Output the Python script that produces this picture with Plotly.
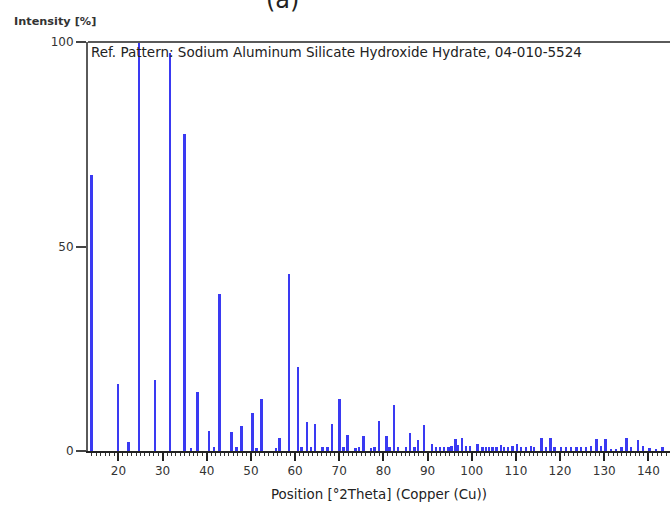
import plotly.graph_objects as go

positions = [14.0, 20.0, 22.3, 24.75, 28.3, 31.7, 35.0, 36.5, 38.0, 40.6, 41.7, 42.9, 45.7, 46.8, 47.9,
             50.4, 51.3, 52.4, 55.7, 56.5, 58.7, 60.7, 61.5, 62.8, 63.7, 64.6, 66.3, 67.4, 68.4, 70.1,
             71.0, 71.9, 73.7, 74.5, 75.5, 77.3, 78.0, 79.0, 80.7, 81.4, 82.5, 83.4, 85.2, 86.1, 87.1,
             87.9, 89.3, 91.0, 92.0, 92.9, 93.8, 94.8, 95.5, 96.4, 97.0, 97.8, 98.7, 99.7, 101.4, 102.5,
             103.3, 104.0, 104.8, 105.7, 106.7, 107.4, 108.3, 109.3, 110.3, 111.2, 112.3, 113.5, 114.2,
             115.9, 116.9, 117.9, 118.8, 120.3, 121.4, 122.5, 123.8, 124.8, 125.9, 127.1, 128.3, 129.3,
             130.3, 131.6, 132.7, 134.0, 135.1, 136.1, 137.7, 138.8, 140.3, 141.8, 143.3]
intensities = [67.5, 16.5, 2.2, 100.0, 17.4, 97.2, 77.6, 0.8, 14.4, 4.8, 1.0, 38.4, 4.6, 1.0, 6.0,
               9.2, 0.8, 12.6, 0.8, 3.3, 43.2, 20.6, 1.0, 7.1, 1.0, 6.7, 1.1, 1.0, 6.7, 12.6,
               1.0, 4.0, 0.8, 1.0, 3.6, 0.8, 1.0, 7.4, 3.6, 1.0, 11.3, 1.0, 1.0, 4.4, 1.0,
               2.6, 6.4, 1.6, 1.0, 1.0, 1.0, 1.0, 1.2, 2.9, 1.5, 3.2, 1.2, 1.3, 1.6, 1.0,
               1.0, 1.0, 1.0, 1.0, 1.5, 1.0, 1.0, 1.2, 1.8, 1.0, 1.0, 1.2, 1.0,
               3.2, 1.0, 3.2, 1.0, 1.0, 1.0, 1.0, 1.0, 1.0, 1.0, 1.2, 2.9, 1.2,
               2.9, 0.5, 0.5, 1.0, 3.2, 1.0, 2.8, 1.2, 0.8, 0.5, 1.0]

x_ticks = [20, 30, 40, 50, 60, 70, 80, 90, 100, 110, 120, 130, 140]
y_ticks = [0, 50, 100]

FONT = "DejaVu Sans"

fig = go.Figure()
fig.add_trace(go.Bar(x=positions, y=intensities, width=0.45,
                     marker=dict(color="#3a3af2", line=dict(width=0)),
                     showlegend=False))

fig.update_layout(
    width=670, height=506,
    margin=dict(l=88, r=0, t=42, b=55),
    paper_bgcolor="white", plot_bgcolor="white",
    font=dict(family=FONT, size=12, color="#333333"),
    bargap=0,
    xaxis=dict(range=[13.1, 144.9], tickvals=x_ticks, ticktext=[str(v) for v in x_ticks],
               showgrid=False, zeroline=False, showline=True, linecolor="#222222", linewidth=2,
               ticks="outside", ticklen=8, tickwidth=1.5, tickcolor="#222222",
               minor=dict(dtick=1, ticks="outside", ticklen=3, tickwidth=1, tickcolor="#333333"),
               tickfont=dict(size=12, color="#333333"),
               title=dict(text="Position [°2Theta] (Copper (Cu))", font=dict(size=13.4, color="#222222"),
                          standoff=12)),
    yaxis=dict(range=[0, 100], tickvals=y_ticks, ticktext=[str(v) for v in y_ticks],
               showgrid=False, zeroline=False, showline=True, linecolor="#5a5a5a", linewidth=2,
               ticks="outside", ticklen=10, tickwidth=1.5, tickcolor="#444444",
               tickfont=dict(size=12, color="#333333")),
    shapes=[dict(type="line", xref="paper", yref="paper", x0=0, x1=1, y0=1, y1=1,
                 line=dict(color="#5a5a5a", width=2))],
    annotations=[
        dict(text="<b>Intensity [%]</b>", xref="paper", yref="paper", x=-0.1305, y=1.03,
             xanchor="left", yanchor="bottom", showarrow=False,
             font=dict(size=11.3, color="#333333")),
        dict(text="Ref. Pattern: Sodium Aluminum Silicate Hydroxide Hydrate, 04-010-5524",
             xref="paper", yref="paper", x=0.002, y=0.999, xanchor="left", yanchor="top",
             showarrow=False, font=dict(size=13.5, color="#222222")),
        dict(text="(a)", xref="paper", yref="paper", x=0.335, y=1.103,
             xanchor="center", yanchor="middle", showarrow=False,
             font=dict(size=24, color="#222222")),
    ],
)

fig.write_html("out.html", config={"displayModeBar": False},
               post_script="document.body.style.margin='0';document.body.style.overflow='hidden';")
